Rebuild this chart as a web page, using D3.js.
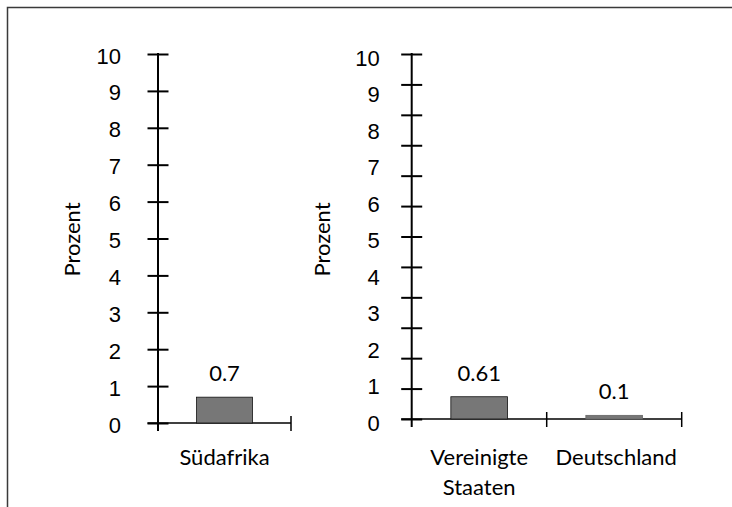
<!DOCTYPE html>
<html>
<head>
<meta charset="utf-8">
<script src="https://cdn.jsdelivr.net/npm/d3@7"></script>
<style>
  html, body { margin: 0; padding: 0; background: #fff; }
  svg { display: block; font-family: "Gill Sans", Lato, sans-serif; }
</style>
</head>
<body>
<svg id="chart" width="732" height="507"></svg>
<script>
// data
var leftCategories = ["Südafrika"];
var leftValues = [0.7];
var rightCategories = ["Vereinigte Staaten", "Deutschland"];
var rightValues = [0.61, 0.1];
var tickLabels = [0, 1, 2, 3, 4, 5, 6, 7, 8, 9, 10];
var axisTitle = "Prozent";

var svg = d3.select("#chart");
var fontSize = "22px";

// outer frame (top + left only)
svg.append("path")
    .attr("d", "M7.5,507V7.5H732")
    .attr("fill", "none")
    .attr("stroke", "#3a3a3a")
    .attr("stroke-width", 1.5);

function drawPanel(cfg) {
    var g = svg.append("g");
    var y = d3.scaleLinear().domain([0, 10]).range([cfg.zeroY, cfg.topY]);
    var x = d3.scaleBand().domain(cfg.cats).range([cfg.axisX, cfg.endX]).padding(0);

    // tick marks crossing the axis
    var tickAxis = d3.axisLeft(y).tickValues(cfg.tickMarks).tickSize(10).tickFormat("");
    var ta = g.append("g").attr("transform", "translate(" + cfg.axisX + ",0)").call(tickAxis);
    ta.select(".domain").remove();
    ta.selectAll(".tick line")
        .attr("x1", -10.5).attr("x2", 10.5)
        .attr("stroke", "#000").attr("stroke-width", 2);

    // tick labels
    var labAxis = d3.axisLeft(y).tickValues(tickLabels).tickSize(0).tickPadding(cfg.labelPad);
    var la = g.append("g").attr("transform", "translate(" + cfg.axisX + "," + cfg.labelShift + ")").call(labAxis);
    la.select(".domain").remove();
    la.selectAll("text")
        .style("font-size", fontSize)
        .attr("fill", "#000");

    // y axis line
    g.append("line")
        .attr("x1", cfg.axisX).attr("x2", cfg.axisX)
        .attr("y1", y(10) - 1).attr("y2", y(0) + 8)
        .attr("stroke", "#000").attr("stroke-width", 2);

    // x axis line + category boundary ticks
    g.append("line")
        .attr("x1", cfg.axisX - 10.5).attr("x2", cfg.endX)
        .attr("y1", y(0)).attr("y2", y(0))
        .attr("stroke", "#000").attr("stroke-width", 1.5);
    g.selectAll(".xtick")
        .data(cfg.cats)
        .enter().append("line")
        .attr("class", "xtick")
        .attr("x1", function (d) { return x(d) + x.step(); })
        .attr("x2", function (d) { return x(d) + x.step(); })
        .attr("y1", y(0) - 7).attr("y2", y(0) + 8)
        .attr("stroke", "#000").attr("stroke-width", 1.5);

    var barW = x.bandwidth() * 0.42;
    g.selectAll(".bar")
        .data(cfg.vals)
        .enter().append("rect")
        .attr("class", "bar")
        .attr("x", function (d, i) { return x(cfg.cats[i]) + (x.bandwidth() - barW) / 2; })
        .attr("y", function (d) { return y(d); })
        .attr("width", barW)
        .attr("height", function (d) { return y(0) - y(d); })
        .attr("fill", "#777")
        .attr("stroke", function (d) { return d < 0.2 ? "#666" : "#111"; })
        .attr("stroke-width", 0.8);

    g.selectAll(".val")
        .data(cfg.vals)
        .enter().append("text")
        .attr("class", "val")
        .attr("x", function (d, i) { return x(cfg.cats[i]) + x.bandwidth() / 2; })
        .attr("y", function (d) { return y(d) - 16; })
        .attr("text-anchor", "middle")
        .style("font-size", fontSize)
        .text(function (d) { return d; });

    // category labels, split on spaces into lines
    g.selectAll(".cat")
        .data(cfg.cats)
        .enter().append("text")
        .attr("class", "cat")
        .attr("text-anchor", "middle")
        .style("font-size", fontSize)
        .attr("y", 465)
        .each(function (d, i) {
            var t = d3.select(this);
            var cx = x(d) + x.bandwidth() / 2 + (cfg.catNudge ? cfg.catNudge[i] : 0);
            d.split(" ").forEach(function (w, j) {
                t.append("tspan")
                    .attr("x", cx)
                    .attr("dy", j ? 30 : 0)
                    .text(w);
            });
        });

    // axis title
    g.append("text")
        .attr("transform", "translate(" + cfg.titleX + ",239.5) rotate(-90)")
        .attr("text-anchor", "middle")
        .style("font-size", fontSize)
        .text(axisTitle);
}

drawPanel({
    cats: leftCategories, vals: leftValues,
    axisX: 158, endX: 291, zeroY: 423, topY: 54,
    tickMarks: d3.range(11),
    labelPad: 37, labelShift: 2, titleX: 80
});

drawPanel({
    cats: rightCategories, vals: rightValues,
    axisX: 411.7, endX: 681.7, zeroY: 419, topY: 54,
    tickMarks: d3.range(13).map(function (i) { return i * 10 / 12; }),
    labelPad: 32, labelShift: 4, titleX: 330,
    catNudge: [0, 2]
});
</script>
</body>
</html>
